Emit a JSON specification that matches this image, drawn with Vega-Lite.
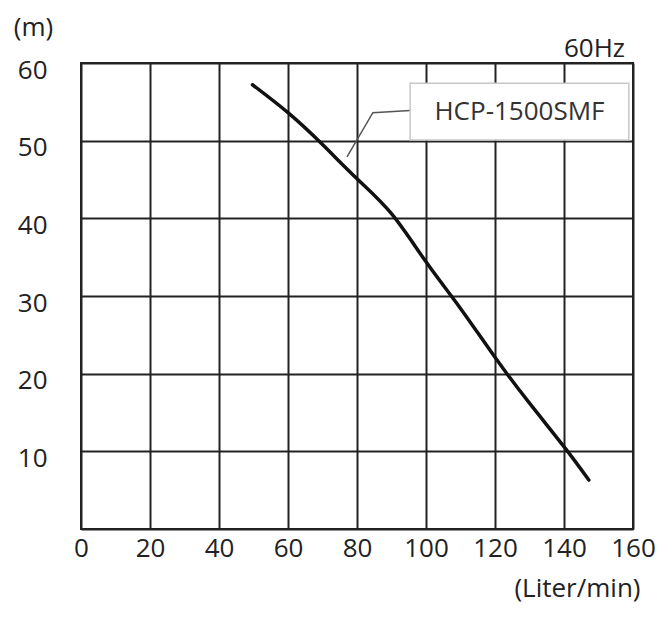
{
  "$schema": "https://vega.github.io/schema/vega-lite/v6.json",
  "width": 552,
  "height": 466,
  "autosize": {"type": "none"},
  "padding": {"left": 81, "top": 63, "right": 39, "bottom": 89},
  "background": "white",
  "config": {
    "font": "Open Sans",
    "view": {"stroke": "#222", "strokeWidth": 2}
  },
  "layer": [
    {
      "data": {"values": [
        {"flow": 49.7, "head": 57.2},
        {"flow": 60, "head": 53.6},
        {"flow": 70, "head": 49.5},
        {"flow": 80, "head": 45.1},
        {"flow": 90, "head": 40.6},
        {"flow": 100, "head": 34.4},
        {"flow": 110, "head": 28.4},
        {"flow": 120, "head": 22.1},
        {"flow": 130, "head": 16.2},
        {"flow": 140, "head": 10.6},
        {"flow": 147.2, "head": 6.3}
      ]},
      "mark": {"type": "line", "color": "#111", "strokeWidth": 3.5, "interpolate": "natural", "strokeCap": "round"},
      "encoding": {
        "x": {
          "field": "flow", "type": "quantitative",
          "scale": {"domain": [0, 160], "nice": false, "zero": false},
          "axis": {
            "values": [0, 20, 40, 60, 80, 100, 120, 140, 160],
            "grid": true, "gridColor": "#222", "gridWidth": 2, "gridOpacity": 1,
            "domain": false, "ticks": false, "tickSize": 0, "labelFlush": false,
            "labelFontSize": 26, "labelColor": "#222", "labelPadding": 19,
            "labelBaseline": "middle", "labelFont": "Open Sans",
            "title": "(Liter/min)", "titleFontSize": 26, "titleFontWeight": "normal",
            "titleColor": "#222", "titleFont": "Open Sans",
            "titleAnchor": "end", "titleAlign": "right", "titleBaseline": "middle",
            "titleX": 559, "titleY": 59
          }
        },
        "y": {
          "field": "head", "type": "quantitative",
          "scale": {"domain": [0, 60], "nice": false, "zero": false},
          "axis": {
            "values": [0, 10, 20, 30, 40, 50, 60],
            "labelExpr": "datum.value == 0 ? '' : datum.label",
            "grid": true, "gridColor": "#222", "gridWidth": 2, "gridOpacity": 1,
            "domain": false, "ticks": false, "tickSize": 0,
            "labelFontSize": 26, "labelColor": "#222", "labelPadding": 34,
            "labelOffset": 7, "labelFont": "Open Sans",
            "title": "(m)", "titleFontSize": 26, "titleFontWeight": "normal",
            "titleColor": "#222", "titleFont": "Open Sans", "titleAngle": 0,
            "titleAlign": "center", "titleBaseline": "middle",
            "titleX": -48, "titleY": -36
          }
        }
      }
    },
    {
      "data": {"values": [
        {"flow": 95.4, "head": 53.9},
        {"flow": 84.6, "head": 53.6},
        {"flow": 77.1, "head": 47.9}
      ]},
      "mark": {"type": "line", "color": "#555", "strokeWidth": 1.5},
      "encoding": {
        "x": {"field": "flow", "type": "quantitative"},
        "y": {"field": "head", "type": "quantitative"}
      }
    },
    {
      "data": {"values": [
        {"x1": 95.4, "x2": 158.8, "y1": 50.1, "y2": 57.4}
      ]},
      "mark": {"type": "rect", "fill": "white", "stroke": "#c8c8c8", "strokeWidth": 1.5},
      "encoding": {
        "x": {"field": "x1", "type": "quantitative"},
        "x2": {"field": "x2"},
        "y": {"field": "y1", "type": "quantitative"},
        "y2": {"field": "y2"}
      }
    },
    {
      "data": {"values": [
        {"flow": 127.1, "head": 53.75, "label": "HCP-1500SMF"}
      ]},
      "mark": {"type": "text", "fontSize": 26, "color": "#333", "align": "center", "baseline": "middle", "font": "Open Sans"},
      "encoding": {
        "x": {"field": "flow", "type": "quantitative"},
        "y": {"field": "head", "type": "quantitative"},
        "text": {"field": "label"}
      }
    },
    {
      "data": {"values": [
        {"flow": 160, "head": 60, "label": "60Hz"}
      ]},
      "mark": {"type": "text", "fontSize": 26, "color": "#222", "align": "right", "baseline": "alphabetic", "dx": -8, "dy": -6, "font": "Open Sans"},
      "encoding": {
        "x": {"field": "flow", "type": "quantitative"},
        "y": {"field": "head", "type": "quantitative"},
        "text": {"field": "label"}
      }
    }
  ]
}
